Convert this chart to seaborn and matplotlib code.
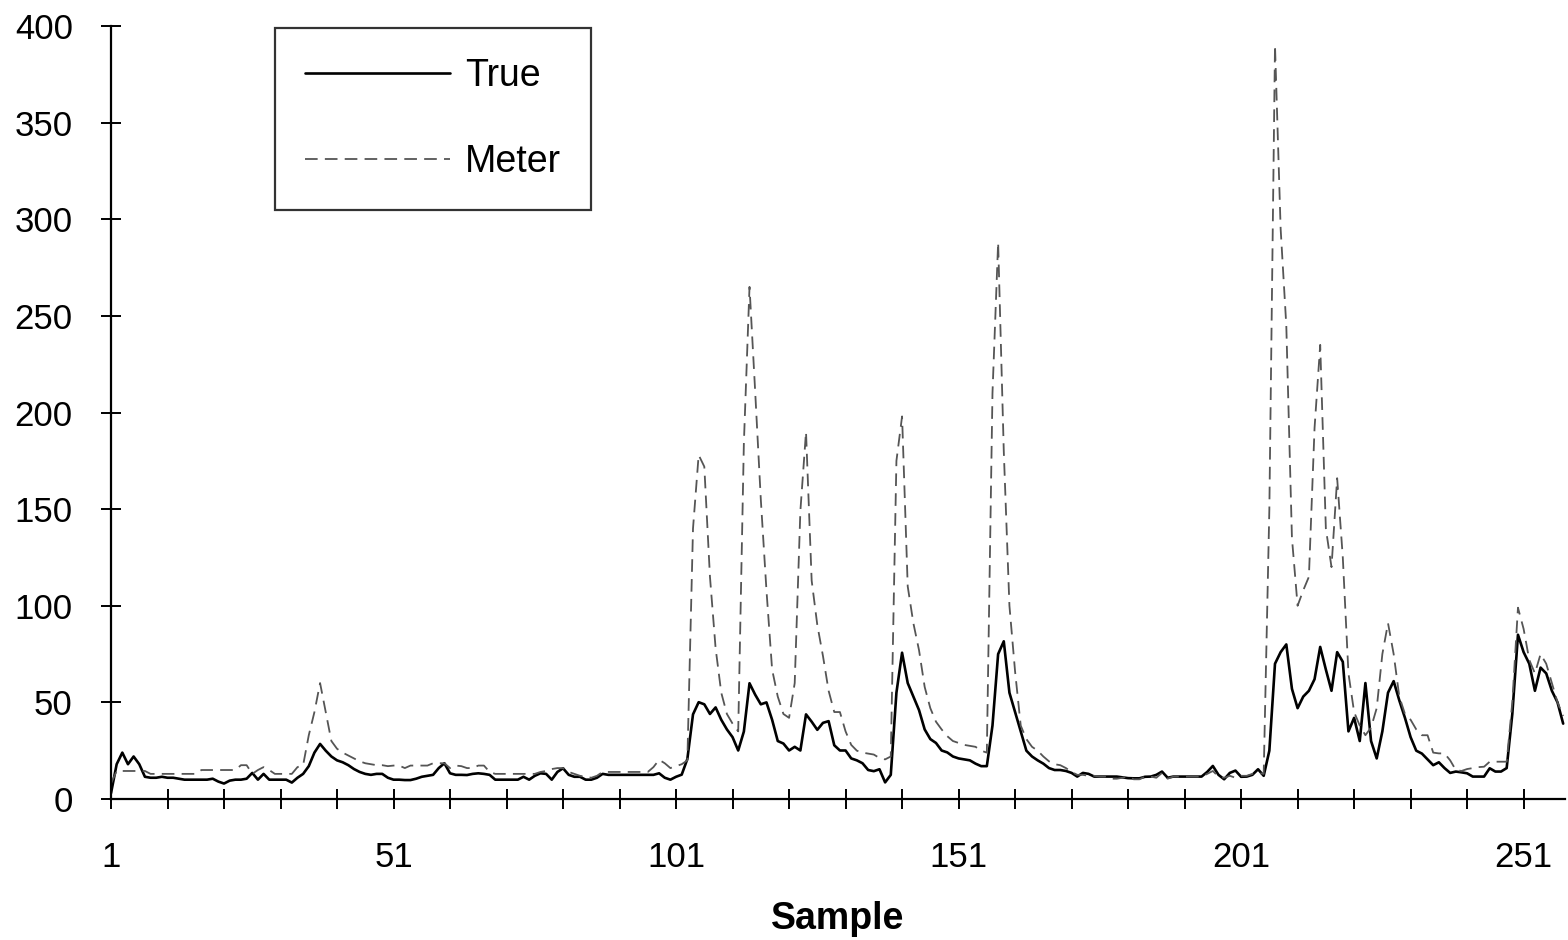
import numpy as np
import pandas as pd
import matplotlib
matplotlib.use("Agg")
import matplotlib.pyplot as plt
import seaborn as sns
from matplotlib.ticker import FixedLocator

true_vals = [
    3, 18, 24, 18, 22, 18, 11.5, 11, 11, 11.5,
    11, 11, 10.5, 10, 10, 10, 10, 10, 10.5, 9,
    8, 9.5, 10, 10, 10.5, 13.5, 10, 13, 10, 10,
    10, 10, 8.5, 11, 13, 17, 24, 28.5, 25, 22,
    20, 19, 17.5, 15.5, 14, 13, 12.5, 13, 13, 11,
    10, 10, 9.8, 9.8, 10.5, 11.5, 12, 12.5, 16, 18.5,
    13.3, 12.5, 12.5, 12.4, 13, 13.3, 13, 12.5, 10, 10,
    10, 10, 10, 11.5, 10, 12, 13.3, 13, 10, 14,
    15.9, 12.5, 11.5, 11.5, 10, 10, 11, 13, 12.5, 12.5,
    12.5, 12.5, 12.5, 12.5, 12.5, 12.5, 12.5, 13.3, 11, 10,
    11.5, 12.6, 20.7, 43.8, 50.1, 49, 44, 47.4, 41, 36,
    32, 25.1, 34.9, 59.9, 54, 49, 50, 41, 30, 28.7,
    25.1, 27, 25.1, 43.8, 40, 35.8, 39.4, 40.3, 27.8, 25.1,
    25.1, 21, 20, 18.5, 15, 14.4, 15.4, 8.6, 12.5, 55,
    75.7, 60, 53, 46, 36, 31, 29, 25.1, 24.1, 22,
    21, 20.5, 20, 18.3, 17, 17, 38, 75, 81.6, 55,
    45, 35, 25, 22, 20, 18.3, 16, 15, 15, 14.5,
    13.5, 11.6, 13.5, 13, 11.6, 11.6, 11.6, 11.6, 11.6, 11.2,
    10.8, 10.7, 10.7, 11.5, 11.6, 12.5, 14.2, 11, 11.6, 11.6,
    11.6, 11.6, 11.6, 11.6, 14, 17.1, 12.5, 10.2, 13.5, 14.7,
    11.5, 11.6, 12.5, 15.4, 12, 25, 70, 76, 80, 57,
    47, 53, 56, 62, 78.7, 67, 56, 76, 71, 35,
    42, 30, 60, 30, 21, 35, 55, 61, 51, 42,
    32, 25, 23.5, 20.5, 17.5, 19, 16, 13.5, 14.2, 13.8,
    13.3, 11.6, 11.6, 11.6, 15.9, 14.2, 14.2, 16, 44, 85,
    76, 70, 56, 68, 65, 56, 50, 39,
]

meter_vals = [
    8, 14.5, 14.5, 14.5, 14.5, 14.5, 14.5, 13, 13, 13,
    13, 13, 13, 13, 13, 13, 15, 15, 15, 15,
    15, 15, 15, 17.5, 17.5, 13, 15, 16.5, 15, 13,
    13, 13, 13, 16.5, 17.5, 33, 45, 60, 45, 30,
    26, 24, 22.5, 21, 19.5, 18.5, 18, 17.5, 17.5, 17,
    17.3, 17.3, 16, 17.3, 17.3, 17.3, 17.3, 18.5, 18.5, 18.5,
    16, 17.3, 17, 16, 16, 17.3, 17.3, 14, 13, 13,
    13, 13, 13, 13, 13, 13, 14, 14.5, 15.5, 16,
    16, 14, 13, 12, 11.5, 11, 12, 14, 14, 14,
    14, 14, 14, 14, 14, 14, 16.5, 20.3, 18.5, 16,
    17, 18, 20, 140, 178, 172, 115, 78, 55, 44,
    39, 35, 184, 265, 211, 155, 108, 67, 53, 44,
    42, 60, 149, 190, 113, 90, 74, 56, 45, 45,
    35, 28, 25, 24, 23.5, 23, 21.2, 20.5, 22, 175,
    198, 110, 91, 77, 58, 47, 40, 36, 32.5, 30,
    29, 28, 27.5, 27, 25, 24, 210, 288, 180, 100,
    66, 38, 31, 27, 25, 22, 19.5, 18, 17.5, 16,
    14, 12.5, 12.5, 12, 12, 11.6, 11.6, 10.5, 10.5, 11,
    11.6, 10.2, 10.2, 11.6, 11.6, 11, 13.5, 10.5, 11.6, 11.6,
    11.6, 11.6, 11.6, 11.6, 13, 14.5, 11.6, 11, 12, 11,
    12, 12, 13, 13.5, 13, 150, 390, 295, 245, 135,
    100, 108, 115, 192, 235, 140, 120, 166, 125, 65,
    45, 38, 33, 37, 47, 75, 91, 75, 53, 44,
    41, 36, 33, 33, 24, 23.6, 23.6, 20, 15, 14.5,
    15.5, 16, 16.5, 16.7, 19.3, 19.3, 19.3, 19.3, 50, 99,
    88, 72, 65, 75, 70, 60, 50, 43,
]

samples = list(range(1, len(true_vals) + 1))
x_tick_labels = [1, 51, 101, 151, 201, 251]
y_ticks = [0, 50, 100, 150, 200, 250, 300, 350, 400]

sns.set_style("white")
plt.rcParams['font.family'] = ['Liberation Sans', 'DejaVu Sans']
plt.rcParams['text.color'] = 'black'
plt.rcParams['axes.labelcolor'] = 'black'
plt.rcParams['xtick.color'] = 'black'
plt.rcParams['ytick.color'] = 'black'

fig = plt.figure(figsize=(15.68, 9.4), dpi=100)
ax = fig.add_axes([0.0708, 0.15, 0.9272, 0.8223])

sns.lineplot(x=samples, y=true_vals, ax=ax, color='black', linewidth=1.9,
             label='True')
sns.lineplot(x=samples, y=meter_vals, ax=ax, color='#555555', linewidth=1.3,
             label='Meter')
ax.lines[1].set_dashes([7, 4])

ax.set_xlim(1, 258.3)
ax.set_ylim(0, 400)
ax.set_yticks(y_ticks)
ax.set_xticks(x_tick_labels)
ax.xaxis.set_minor_locator(FixedLocator([v for v in range(1, 259, 10) if v not in x_tick_labels]))
ax.tick_params(axis='both', which='both', direction='inout', length=15,
               width=1.4, color='black', labelsize=25, labelcolor='black',
               bottom=True, left=True)
ax.tick_params(axis='x', which='major', pad=23)
ax.tick_params(axis='y', which='major', pad=20)

for side in ['top', 'right']:
    ax.spines[side].set_visible(False)
for side in ['left', 'bottom']:
    ax.spines[side].set_color('black')
    ax.spines[side].set_linewidth(1.6)

ax.set_xlabel('Sample', fontsize=27, fontweight='bold', labelpad=19,
              color='black')
ax.set_ylabel('')

leg = ax.legend(loc='upper left', bbox_to_anchor=(0.113, 0.997),
                borderaxespad=0, fontsize=27, handlelength=3.85,
                handletextpad=0.4, labelspacing=1.32, borderpad=0.8,
                fancybox=False, frameon=True)
leg.get_frame().set_edgecolor('black')
leg.get_frame().set_linewidth(1.6)
for t in leg.get_texts():
    t.set_color('black')

fig.savefig('out.png', dpi=100)
